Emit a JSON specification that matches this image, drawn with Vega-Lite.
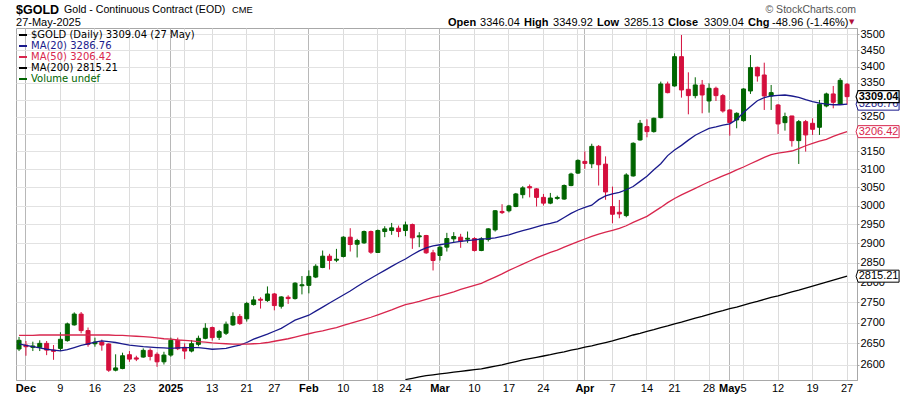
{
  "$schema": "https://vega.github.io/schema/vega-lite/v6.json",
  "autosize": {"type": "none"},
  "padding": {"left": 16, "top": 28, "right": 43, "bottom": 16},
  "width": 841,
  "height": 352,
  "background": "white",
  "config": {
    "font": "Liberation Sans",
    "view": {"stroke": "#a8a8a8", "strokeWidth": 1}
  },
  "data": {"name": "candles", "values": [
    {"date":"2024-11-29","open":2636.5,"high":2665.3,"low":2631.7,"close":2657.3,"ma20":2649,"ma50":2669,"ma200":null},
    {"date":"2024-12-02","open":2646,"high":2655.6,"low":2620.6,"close":2642,"ma20":2645,"ma50":2669,"ma200":null},
    {"date":"2024-12-03","open":2640.5,"high":2654,"low":2631.7,"close":2643.7,"ma20":2642,"ma50":2669,"ma200":null},
    {"date":"2024-12-04","open":2640.5,"high":2657.3,"low":2631.7,"close":2650,"ma20":2639,"ma50":2670,"ma200":null},
    {"date":"2024-12-05","open":2650,"high":2655.6,"low":2622,"close":2634,"ma20":2636,"ma50":2670,"ma200":null},
    {"date":"2024-12-06","open":2634,"high":2646,"low":2611,"close":2631,"ma20":2634,"ma50":2670,"ma200":null},
    {"date":"2024-12-09","open":2638,"high":2676.6,"low":2631.7,"close":2659.7,"ma20":2632,"ma50":2670,"ma200":null},
    {"date":"2024-12-10","open":2656.5,"high":2700,"low":2654,"close":2696.8,"ma20":2635,"ma50":2670,"ma200":null},
    {"date":"2024-12-11","open":2694.4,"high":2725,"low":2692.7,"close":2720.8,"ma20":2640,"ma50":2670,"ma200":null},
    {"date":"2024-12-12","open":2720.8,"high":2725.8,"low":2674.2,"close":2680.6,"ma20":2645,"ma50":2670,"ma200":null},
    {"date":"2024-12-13","open":2680.6,"high":2688,"low":2642,"close":2647.6,"ma20":2649,"ma50":2670,"ma200":null},
    {"date":"2024-12-16","open":2649,"high":2663.7,"low":2642,"close":2653,"ma20":2653,"ma50":2670,"ma200":null},
    {"date":"2024-12-17","open":2653,"high":2659,"low":2632.5,"close":2646,"ma20":2656,"ma50":2670,"ma200":null},
    {"date":"2024-12-18","open":2648.4,"high":2650,"low":2582.8,"close":2586.7,"ma20":2654,"ma50":2670,"ma200":null},
    {"date":"2024-12-19","open":2586.7,"high":2624,"low":2584,"close":2592,"ma20":2652,"ma50":2669,"ma200":null},
    {"date":"2024-12-20","open":2590.6,"high":2627.8,"low":2589,"close":2620.6,"ma20":2649,"ma50":2669,"ma200":null},
    {"date":"2024-12-23","open":2623,"high":2631.7,"low":2606.3,"close":2612.7,"ma20":2646,"ma50":2668,"ma200":null},
    {"date":"2024-12-24","open":2615.5,"high":2620.6,"low":2608,"close":2612.7,"ma20":2644,"ma50":2667,"ma200":null},
    {"date":"2024-12-26","open":2617.5,"high":2638,"low":2616,"close":2633.3,"ma20":2642,"ma50":2666,"ma200":null},
    {"date":"2024-12-27","open":2633.3,"high":2638,"low":2609.5,"close":2619,"ma20":2641,"ma50":2665,"ma200":null},
    {"date":"2024-12-30","open":2624,"high":2628.6,"low":2594.5,"close":2606.3,"ma20":2640,"ma50":2663,"ma200":null},
    {"date":"2024-12-31","open":2606.3,"high":2630,"low":2600,"close":2622.2,"ma20":2639,"ma50":2661,"ma200":null},
    {"date":"2025-01-02","open":2622.2,"high":2663.7,"low":2618.3,"close":2657.3,"ma20":2638,"ma50":2660,"ma200":null},
    {"date":"2025-01-03","open":2657.3,"high":2663.7,"low":2634,"close":2637.3,"ma20":2639,"ma50":2658,"ma200":null},
    {"date":"2025-01-06","open":2640.5,"high":2650,"low":2612.7,"close":2631.7,"ma20":2640,"ma50":2657,"ma200":null},
    {"date":"2025-01-07","open":2631.7,"high":2658,"low":2628.6,"close":2649.2,"ma20":2640,"ma50":2656,"ma200":null},
    {"date":"2025-01-08","open":2647.6,"high":2668.5,"low":2642.9,"close":2662,"ma20":2640,"ma50":2654,"ma200":null},
    {"date":"2025-01-10","open":2662,"high":2698.4,"low":2659.7,"close":2686.3,"ma20":2638,"ma50":2653,"ma200":null},
    {"date":"2025-01-13","open":2688,"high":2690.3,"low":2656.5,"close":2663.7,"ma20":2636,"ma50":2651,"ma200":null},
    {"date":"2025-01-14","open":2664.5,"high":2682.3,"low":2658,"close":2678.2,"ma20":2637,"ma50":2650,"ma200":null},
    {"date":"2025-01-15","open":2674.2,"high":2702.5,"low":2670,"close":2696,"ma20":2638,"ma50":2649,"ma200":null},
    {"date":"2025-01-16","open":2694.4,"high":2725,"low":2692,"close":2715,"ma20":2642,"ma50":2648,"ma200":null},
    {"date":"2025-01-17","open":2715,"high":2720.8,"low":2694.4,"close":2697.6,"ma20":2646,"ma50":2648,"ma200":null},
    {"date":"2025-01-21","open":2709.2,"high":2750.8,"low":2702.5,"close":2746.7,"ma20":2652,"ma50":2648,"ma200":null},
    {"date":"2025-01-22","open":2744.2,"high":2764.8,"low":2741.7,"close":2755.7,"ma20":2660,"ma50":2649,"ma200":null},
    {"date":"2025-01-23","open":2757.4,"high":2762.3,"low":2734.2,"close":2754.9,"ma20":2666,"ma50":2650,"ma200":null},
    {"date":"2025-01-24","open":2754.1,"high":2789.3,"low":2750.8,"close":2770.5,"ma20":2672,"ma50":2652,"ma200":null},
    {"date":"2025-01-27","open":2770.5,"high":2773,"low":2730,"close":2741.7,"ma20":2679,"ma50":2655,"ma200":null},
    {"date":"2025-01-28","open":2740,"high":2764.8,"low":2734.2,"close":2763.1,"ma20":2686,"ma50":2658,"ma200":null},
    {"date":"2025-01-29","open":2762.3,"high":2767.2,"low":2745.8,"close":2759,"ma20":2696,"ma50":2661,"ma200":null},
    {"date":"2025-01-30","open":2759,"high":2800,"low":2756.6,"close":2797.5,"ma20":2706,"ma50":2665,"ma200":null},
    {"date":"2025-01-31","open":2791,"high":2815.5,"low":2769.4,"close":2793.5,"ma20":2712,"ma50":2669,"ma200":null},
    {"date":"2025-02-03","open":2792,"high":2830,"low":2772,"close":2814.7,"ma20":2718,"ma50":2673,"ma200":null},
    {"date":"2025-02-04","open":2813,"high":2845.7,"low":2810.3,"close":2840.5,"ma20":2728,"ma50":2677,"ma200":null},
    {"date":"2025-02-05","open":2837.3,"high":2881,"low":2835.6,"close":2866.4,"ma20":2738,"ma50":2680,"ma200":null},
    {"date":"2025-02-06","open":2866.4,"high":2872.4,"low":2832.2,"close":2855.2,"ma20":2748,"ma50":2684,"ma200":null},
    {"date":"2025-02-07","open":2856,"high":2885.3,"low":2851,"close":2858.6,"ma20":2758,"ma50":2688,"ma200":null},
    {"date":"2025-02-10","open":2865.5,"high":2918.4,"low":2863,"close":2915.8,"ma20":2768,"ma50":2693,"ma200":null},
    {"date":"2025-02-11","open":2915.8,"high":2939.5,"low":2878.4,"close":2896.6,"ma20":2778,"ma50":2698,"ma200":null},
    {"date":"2025-02-12","open":2897.4,"high":2911.4,"low":2863,"close":2907,"ma20":2789,"ma50":2703,"ma200":null},
    {"date":"2025-02-13","open":2900.9,"high":2933.3,"low":2898.3,"close":2930.7,"ma20":2800,"ma50":2708,"ma200":null},
    {"date":"2025-02-14","open":2930.7,"high":2933.3,"low":2872.4,"close":2876.7,"ma20":2810,"ma50":2713,"ma200":null},
    {"date":"2025-02-18","open":2875.9,"high":2936,"low":2875,"close":2933.3,"ma20":2820,"ma50":2719,"ma200":null},
    {"date":"2025-02-19","open":2930.7,"high":2944.7,"low":2915.8,"close":2937.7,"ma20":2830,"ma50":2725,"ma200":null},
    {"date":"2025-02-20","open":2933.3,"high":2953.5,"low":2921.9,"close":2940.4,"ma20":2840,"ma50":2731,"ma200":null},
    {"date":"2025-02-21","open":2939.5,"high":2946.5,"low":2915.8,"close":2930.7,"ma20":2850,"ma50":2738,"ma200":null},
    {"date":"2025-02-24","open":2933.3,"high":2957,"low":2918.4,"close":2948.2,"ma20":2859,"ma50":2744,"ma200":2565},
    {"date":"2025-02-25","open":2949.1,"high":2951.8,"low":2885.3,"close":2914,"ma20":2870,"ma50":2748,"ma200":2568},
    {"date":"2025-02-26","open":2916.7,"high":2929,"low":2889.7,"close":2919.3,"ma20":2880,"ma50":2752,"ma200":2571},
    {"date":"2025-02-27","open":2920.2,"high":2921.9,"low":2872.4,"close":2875,"ma20":2888,"ma50":2757,"ma200":2574},
    {"date":"2025-02-28","open":2875,"high":2882.8,"low":2829.7,"close":2855.2,"ma20":2893,"ma50":2762,"ma200":2576},
    {"date":"2025-03-03","open":2868.1,"high":2894,"low":2855.2,"close":2889.7,"ma20":2896,"ma50":2766,"ma200":2578},
    {"date":"2025-03-04","open":2889.7,"high":2927.2,"low":2878.4,"close":2912.3,"ma20":2899,"ma50":2771,"ma200":2580},
    {"date":"2025-03-05","open":2911.4,"high":2929,"low":2902.6,"close":2917.5,"ma20":2902,"ma50":2776,"ma200":2582},
    {"date":"2025-03-06","open":2915.8,"high":2924.6,"low":2888,"close":2905.3,"ma20":2905,"ma50":2782,"ma200":2584},
    {"date":"2025-03-07","open":2910.5,"high":2930.7,"low":2900.9,"close":2913,"ma20":2907,"ma50":2787,"ma200":2586},
    {"date":"2025-03-10","open":2912.3,"high":2915.8,"low":2878.4,"close":2881,"ma20":2909,"ma50":2792,"ma200":2588},
    {"date":"2025-03-11","open":2881,"high":2915.8,"low":2879.3,"close":2911.4,"ma20":2911,"ma50":2797,"ma200":2590},
    {"date":"2025-03-12","open":2909.6,"high":2939.5,"low":2904.4,"close":2937.7,"ma20":2912,"ma50":2805,"ma200":2593},
    {"date":"2025-03-13","open":2935,"high":2987.7,"low":2930.7,"close":2986,"ma20":2914,"ma50":2813,"ma200":2596},
    {"date":"2025-03-14","open":2984.2,"high":3003.7,"low":2977.2,"close":2981,"ma20":2918,"ma50":2821,"ma200":2599},
    {"date":"2025-03-17","open":2986,"high":3001.9,"low":2981.6,"close":2999,"ma20":2922,"ma50":2830,"ma200":2603},
    {"date":"2025-03-18","open":2997.4,"high":3034.3,"low":2995.6,"close":3031.5,"ma20":2928,"ma50":2838,"ma200":2607},
    {"date":"2025-03-19","open":3029.6,"high":3052.8,"low":3019.4,"close":3048.1,"ma20":2933,"ma50":2846,"ma200":2611},
    {"date":"2025-03-20","open":3051.5,"high":3057.5,"low":3022.2,"close":3048.1,"ma20":2938,"ma50":2854,"ma200":2614},
    {"date":"2025-03-21","open":3045.4,"high":3047.2,"low":2997.4,"close":3022.2,"ma20":2943,"ma50":2862,"ma200":2617},
    {"date":"2025-03-24","open":3022.2,"high":3031.5,"low":3000,"close":3006.5,"ma20":2948,"ma50":2869,"ma200":2620},
    {"date":"2025-03-25","open":3006.5,"high":3034.3,"low":3003.7,"close":3020.4,"ma20":2952,"ma50":2876,"ma200":2623},
    {"date":"2025-03-26","open":3019.4,"high":3026.9,"low":3015.7,"close":3022,"ma20":2957,"ma50":2882,"ma200":2627},
    {"date":"2025-03-27","open":3017.6,"high":3057.5,"low":3015.7,"close":3054.7,"ma20":2968,"ma50":2890,"ma200":2630},
    {"date":"2025-03-28","open":3054.5,"high":3090,"low":3052.7,"close":3086.4,"ma20":2979,"ma50":2897,"ma200":2634},
    {"date":"2025-03-31","open":3089,"high":3127.4,"low":3086.4,"close":3124.5,"ma20":2988,"ma50":2904,"ma200":2637},
    {"date":"2025-04-01","open":3121.7,"high":3150,"low":3101,"close":3116,"ma20":2995,"ma50":2911,"ma200":2641},
    {"date":"2025-04-02","open":3115,"high":3171.7,"low":3102.8,"close":3164.2,"ma20":3001,"ma50":2918,"ma200":2644},
    {"date":"2025-04-03","open":3164.2,"high":3168,"low":3054.5,"close":3112.3,"ma20":3016,"ma50":2924,"ma200":2648},
    {"date":"2025-04-04","open":3114,"high":3135.8,"low":3015.7,"close":3037,"ma20":3026,"ma50":2929,"ma200":2652},
    {"date":"2025-04-07","open":2997.2,"high":3051.6,"low":2952.6,"close":2976.6,"ma20":3032,"ma50":2934,"ma200":2656},
    {"date":"2025-04-08","open":2982,"high":3015.2,"low":2965.9,"close":2977.5,"ma20":3036,"ma50":2939,"ma200":2661},
    {"date":"2025-04-09","open":2973,"high":3088.5,"low":2968.6,"close":3083.8,"ma20":3043,"ma50":2946,"ma200":2665},
    {"date":"2025-04-10","open":3081.1,"high":3175.9,"low":3079.2,"close":3173,"ma20":3052,"ma50":2955,"ma200":2670},
    {"date":"2025-04-11","open":3182.5,"high":3240.3,"low":3180.6,"close":3230.6,"ma20":3066,"ma50":2963,"ma200":2674},
    {"date":"2025-04-14","open":3220.9,"high":3242.3,"low":3190.2,"close":3206.5,"ma20":3080,"ma50":2971,"ma200":2679},
    {"date":"2025-04-15","open":3206.5,"high":3247.1,"low":3203.6,"close":3245.2,"ma20":3098,"ma50":2983,"ma200":2683},
    {"date":"2025-04-16","open":3247.1,"high":3354.1,"low":3245.2,"close":3347,"ma20":3115,"ma50":2995,"ma200":2688},
    {"date":"2025-04-17","open":3347,"high":3354.1,"low":3319,"close":3321,"ma20":3138,"ma50":3008,"ma200":2692},
    {"date":"2025-04-21","open":3341,"high":3440.6,"low":3339,"close":3430.3,"ma20":3154,"ma50":3019,"ma200":2697},
    {"date":"2025-04-22","open":3430.3,"high":3497.9,"low":3306.1,"close":3329,"ma20":3167,"ma50":3029,"ma200":2701},
    {"date":"2025-04-23","open":3331,"high":3382.3,"low":3256.8,"close":3312.1,"ma20":3182,"ma50":3038,"ma200":2706},
    {"date":"2025-04-24","open":3312.1,"high":3367.2,"low":3304.1,"close":3344,"ma20":3196,"ma50":3047,"ma200":2711},
    {"date":"2025-04-25","open":3344,"high":3359.1,"low":3259.8,"close":3314,"ma20":3206,"ma50":3056,"ma200":2715},
    {"date":"2025-04-28","open":3296.2,"high":3349,"low":3261.7,"close":3334,"ma20":3216,"ma50":3065,"ma200":2720},
    {"date":"2025-04-29","open":3334,"high":3339,"low":3296.2,"close":3312.1,"ma20":3220,"ma50":3073,"ma200":2725},
    {"date":"2025-04-30","open":3312.1,"high":3317.1,"low":3261.7,"close":3266.6,"ma20":3225,"ma50":3081,"ma200":2729},
    {"date":"2025-05-01","open":3269.6,"high":3271.6,"low":3195,"close":3232.5,"ma20":3229,"ma50":3089,"ma200":2734},
    {"date":"2025-05-02","open":3240.3,"high":3262.7,"low":3216.1,"close":3259.8,"ma20":3242,"ma50":3098,"ma200":2738},
    {"date":"2025-05-05","open":3238.4,"high":3334,"low":3235.4,"close":3332,"ma20":3262,"ma50":3106,"ma200":2743},
    {"date":"2025-05-06","open":3326,"high":3435.3,"low":3317.1,"close":3396.6,"ma20":3280,"ma50":3115,"ma200":2748},
    {"date":"2025-05-07","open":3397.6,"high":3399.6,"low":3354.1,"close":3371.2,"ma20":3297,"ma50":3124,"ma200":2752},
    {"date":"2025-05-08","open":3374.2,"high":3411.8,"low":3269.6,"close":3311.1,"ma20":3306,"ma50":3133,"ma200":2757},
    {"date":"2025-05-09","open":3311.1,"high":3344,"low":3269.6,"close":3321,"ma20":3311,"ma50":3141,"ma200":2762},
    {"date":"2025-05-12","open":3284.3,"high":3287.3,"low":3199.8,"close":3228.7,"ma20":3313,"ma50":3145,"ma200":2766},
    {"date":"2025-05-13","open":3232.5,"high":3261.7,"low":3209.4,"close":3250,"ma20":3314,"ma50":3148,"ma200":2771},
    {"date":"2025-05-14","open":3252,"high":3252,"low":3163.5,"close":3180.6,"ma20":3311,"ma50":3151,"ma200":2776},
    {"date":"2025-05-15","open":3180.6,"high":3240.3,"low":3114.5,"close":3235.4,"ma20":3307,"ma50":3158,"ma200":2780},
    {"date":"2025-05-16","open":3235.4,"high":3240.3,"low":3149.3,"close":3196.9,"ma20":3300,"ma50":3166,"ma200":2785},
    {"date":"2025-05-19","open":3230.6,"high":3245.2,"low":3196.9,"close":3213.2,"ma20":3294,"ma50":3173,"ma200":2790},
    {"date":"2025-05-20","open":3219,"high":3299.2,"low":3196.9,"close":3286.3,"ma20":3290,"ma50":3179,"ma200":2795},
    {"date":"2025-05-21","open":3281.3,"high":3321,"low":3277.4,"close":3317.1,"ma20":3287,"ma50":3184,"ma200":2800},
    {"date":"2025-05-22","open":3317.1,"high":3341,"low":3274.5,"close":3292.2,"ma20":3285,"ma50":3193,"ma200":2805},
    {"date":"2025-05-23","open":3286.3,"high":3365,"low":3284.3,"close":3358,"ma20":3285,"ma50":3200,"ma200":2810},
    {"date":"2025-05-27","open":3346.04,"high":3349.92,"low":3285.13,"close":3309.04,"ma20":3286.76,"ma50":3206.42,"ma200":2815.21}
  ]},
  "encoding": {
    "x": {
      "field": "date",
      "type": "ordinal",
      "scale": {
        "type": "band",
        "paddingInner": 0.42,
        "paddingOuter": 0.15,
        "domain": ["2024-11-29","2024-12-02","2024-12-03","2024-12-04","2024-12-05","2024-12-06","2024-12-09","2024-12-10","2024-12-11","2024-12-12","2024-12-13","2024-12-16","2024-12-17","2024-12-18","2024-12-19","2024-12-20","2024-12-23","2024-12-24","2024-12-26","2024-12-27","2024-12-30","2024-12-31","2025-01-02","2025-01-03","2025-01-06","2025-01-07","2025-01-08","2025-01-10","2025-01-13","2025-01-14","2025-01-15","2025-01-16","2025-01-17","2025-01-21","2025-01-22","2025-01-23","2025-01-24","2025-01-27","2025-01-28","2025-01-29","2025-01-30","2025-01-31","2025-02-03","2025-02-04","2025-02-05","2025-02-06","2025-02-07","2025-02-10","2025-02-11","2025-02-12","2025-02-13","2025-02-14","2025-02-18","2025-02-19","2025-02-20","2025-02-21","2025-02-24","2025-02-25","2025-02-26","2025-02-27","2025-02-28","2025-03-03","2025-03-04","2025-03-05","2025-03-06","2025-03-07","2025-03-10","2025-03-11","2025-03-12","2025-03-13","2025-03-14","2025-03-17","2025-03-18","2025-03-19","2025-03-20","2025-03-21","2025-03-24","2025-03-25","2025-03-26","2025-03-27","2025-03-28","2025-03-31","2025-04-01","2025-04-02","2025-04-03","2025-04-04","2025-04-07","2025-04-08","2025-04-09","2025-04-10","2025-04-11","2025-04-14","2025-04-15","2025-04-16","2025-04-17","2025-04-21","2025-04-22","2025-04-23","2025-04-24","2025-04-25","2025-04-28","2025-04-29","2025-04-30","2025-05-01","2025-05-02","2025-05-05","2025-05-06","2025-05-07","2025-05-08","2025-05-09","2025-05-12","2025-05-13","2025-05-14","2025-05-15","2025-05-16","2025-05-19","2025-05-20","2025-05-21","2025-05-22","2025-05-23","2025-05-27","2025-05-28"]
      },
      "axis": {
        "title": null,
        "orient": "bottom",
        "bandPosition": 0.5,
        "values": ["2024-12-02","2024-12-09","2024-12-16","2024-12-23","2024-12-30","2025-01-02","2025-01-06","2025-01-13","2025-01-21","2025-01-27","2025-02-03","2025-02-10","2025-02-18","2025-02-24","2025-03-03","2025-03-10","2025-03-17","2025-03-24","2025-03-31","2025-04-01","2025-04-07","2025-04-14","2025-04-21","2025-04-28","2025-05-01","2025-05-05","2025-05-12","2025-05-19","2025-05-27"],
        "labelExpr": "datum.value == '2024-12-02' ? 'Dec' : datum.value == '2025-01-02' ? '2025' : datum.value == '2025-02-03' ? 'Feb' : datum.value == '2025-03-03' ? 'Mar' : datum.value == '2025-04-01' ? 'Apr' : datum.value == '2025-05-01' ? 'May' : (datum.value == '2024-12-30' || datum.value == '2025-01-06' || datum.value == '2025-03-31') ? '' : '' + toNumber(substring(datum.value, 8, 10))",
        "labelFontWeight": {"condition": {"test": "indexof(['2024-12-02','2025-01-02','2025-02-03','2025-03-03','2025-04-01','2025-05-01'], datum.value) >= 0", "value": "bold"}, "value": "normal"},
        "gridColor": {"condition": {"test": "indexof(['2024-12-02','2025-01-02','2025-02-03','2025-03-03','2025-04-01','2025-05-01'], datum.value) >= 0", "value": "#b8b8b8"}, "value": "#dcdcdc"},
        "grid": true,
        "gridWidth": 1,
        "ticks": false,
        "labelPadding": 2,
        "labelAngle": 0,
        "labelOverlap": false,
        "labelFont": "Liberation Sans",
        "labelFontSize": 11,
        "labelColor": "#000000",
        "domainColor": "#a8a8a8"
      }
    }
  },
  "layer": [
    {
      "mark": {"type": "rule", "strokeWidth": 1},
      "encoding": {
        "y": {
          "field": "low",
          "type": "quantitative",
          "scale": {"type": "log", "domain": [2564, 3520], "nice": false, "zero": false},
          "axis": {
            "title": null,
            "orient": "right",
            "values": [2600,2650,2700,2750,2800,2850,2900,2950,3000,3050,3100,3150,3200,3250,3300,3350,3400,3450,3500],
            "format": "d",
            "labelExpr": "datum.value == 3200 || datum.value == 3300 ? '' : datum.label",
            "grid": true,
            "gridColor": "#e2e2e2",
            "domainColor": "#a8a8a8",
            "tickColor": "#a8a8a8",
            "tickSize": 2,
            "labelPadding": 1,
            "labelFont": "Liberation Sans",
            "labelFontSize": 11,
            "labelColor": "#000000"
          }
        },
        "y2": {"field": "high"},
        "color": {"condition": {"test": "datum.close >= datum.open", "value": "#006400"}, "value": "#d40f3d"}
      }
    },
    {
      "mark": {"type": "bar", "strokeWidth": 1},
      "encoding": {
        "y": {"field": "open", "type": "quantitative"},
        "y2": {"field": "close"},
        "color": {"condition": {"test": "datum.close >= datum.open", "value": "#006400"}, "value": "#d40f3d"},
        "stroke": {"condition": {"test": "datum.close >= datum.open", "value": "#006400"}, "value": "#d40f3d"}
      }
    },
    {
      "transform": [{"fold": ["ma20", "ma50", "ma200"], "as": ["series", "ma"]}],
      "mark": {"type": "line", "strokeWidth": 1.3, "clip": true},
      "encoding": {
        "y": {"field": "ma", "type": "quantitative"},
        "color": {
          "field": "series",
          "type": "nominal",
          "scale": {"domain": ["gold", "ma20", "ma50", "ma200", "volume"], "range": ["#000000", "#1a1a8c", "#d8264d", "#000000", "#006400"]},
          "legend": {
            "title": null,
            "orient": "top-left",
            "offset": 2,
            "padding": 0,
            "rowPadding": 1,
            "symbolType": "stroke",
            "symbolSize": 64,
            "symbolStrokeWidth": 2,
            "labelOffset": 3,
            "labelFont": "DejaVu Sans",
            "labelFontSize": 10,
            "labelLimit": 400,
            "labelExpr": "datum.value == 'gold' ? '$GOLD (Daily) 3309.04 (27 May)' : datum.value == 'ma20' ? 'MA(20) 3286.76' : datum.value == 'ma50' ? 'MA(50) 3206.42' : datum.value == 'ma200' ? 'MA(200) 2815.21' : 'Volume undef'",
            "labelColor": {"expr": "datum.value == 'ma20' ? '#1a1a8c' : datum.value == 'ma50' ? '#d8264d' : datum.value == 'volume' ? '#006400' : '#000000'"}
          }
        },
        "detail": {"field": "series"}
      }
    },
    {
      "transform": [{"filter": "datum.date == '2025-05-27'"}, {"fold": ["ma200", "ma50", "ma20"], "as": ["series", "value"]}],
      "mark": {"type": "point", "shape": "M9,0L11,-6H52V6H11Z", "size": 4, "filled": true, "fill": "white", "strokeWidth": 1, "opacity": 1},
      "encoding": {
        "y": {"field": "value", "type": "quantitative"},
        "stroke": {"condition": [{"test": "datum.series == 'ma20'", "value": "#1a1a8c"}, {"test": "datum.series == 'ma50'", "value": "#d8264d"}], "value": "#000000"}
      }
    },
    {
      "transform": [{"filter": "datum.date == '2025-05-27'"}, {"fold": ["ma200", "ma50", "ma20"], "as": ["series", "value"]}],
      "mark": {"type": "text", "dx": 31.5, "align": "center", "baseline": "middle", "font": "Liberation Sans", "fontSize": 11},
      "encoding": {
        "y": {"field": "value", "type": "quantitative"},
        "text": {"field": "value", "type": "quantitative", "format": ".2f"},
        "color": {"condition": [{"test": "datum.series == 'ma20'", "value": "#1a1a8c"}, {"test": "datum.series == 'ma50'", "value": "#d8264d"}], "value": "#000000"}
      }
    },
    {
      "transform": [{"filter": "datum.date == '2025-05-27'"}],
      "mark": {"type": "point", "shape": "M9,0L11,-6H52V6H11Z", "size": 4, "filled": true, "fill": "white", "stroke": "#000000", "strokeWidth": 1.2, "opacity": 1},
      "encoding": {"y": {"field": "close", "type": "quantitative"}}
    },
    {
      "transform": [{"filter": "datum.date == '2025-05-27'"}],
      "mark": {"type": "text", "dx": 31.5, "align": "center", "baseline": "middle", "font": "Liberation Sans", "fontSize": 11, "fontWeight": "bold", "color": "#000000"},
      "encoding": {
        "y": {"field": "close", "type": "quantitative"},
        "text": {"field": "close", "type": "quantitative", "format": ".2f"}
      }
    },
    {
      "data": {"values": [{}]},
      "mark": {"type": "text", "text": "$GOLD", "align": "left", "baseline": "alphabetic", "dx": -3, "dy": -14, "font": "Liberation Sans", "fontSize": 12.5, "fontWeight": "bold", "color": "#000000"},
      "encoding": {"x": {"datum": "2024-11-29"}, "y": {"datum": 3520}}
    },
    {
      "data": {"values": [{}]},
      "mark": {"type": "text", "text": "Gold - Continuous Contract (EOD)", "align": "left", "baseline": "alphabetic", "dx": 45, "dy": -15, "font": "Liberation Sans", "fontSize": 10.6, "color": "#000000"},
      "encoding": {"x": {"datum": "2024-11-29"}, "y": {"datum": 3520}}
    },
    {
      "data": {"values": [{}]},
      "mark": {"type": "text", "text": "CME", "align": "left", "baseline": "alphabetic", "dx": 213, "dy": -15, "font": "Liberation Sans", "fontSize": 9.3, "color": "#000000"},
      "encoding": {"x": {"datum": "2024-11-29"}, "y": {"datum": 3520}}
    },
    {
      "data": {"values": [{}]},
      "mark": {"type": "text", "text": "27-May-2025", "align": "left", "baseline": "alphabetic", "dx": -3, "dy": -2, "font": "Liberation Sans", "fontSize": 11, "color": "#000000"},
      "encoding": {"x": {"datum": "2024-11-29"}, "y": {"datum": 3520}}
    },
    {
      "data": {"values": [{}]},
      "mark": {"type": "text", "text": "© StockCharts.com", "align": "right", "baseline": "alphabetic", "dx": 9, "dy": -15.5, "font": "Liberation Sans", "fontSize": 10.5, "color": "#555555"},
      "encoding": {"x": {"datum": "2025-05-27"}, "y": {"datum": 3520}}
    },
    {
      "data": {"values": [{}]},
      "mark": {"type": "text", "text": "Open", "align": "left", "baseline": "alphabetic", "dx": -399, "dy": -2.5, "font": "Liberation Sans", "fontSize": 11, "fontWeight": "bold", "color": "#000000"},
      "encoding": {"x": {"datum": "2025-05-27"}, "y": {"datum": 3520}}
    },
    {
      "data": {"values": [{}]},
      "mark": {"type": "text", "text": "3346.04", "align": "left", "baseline": "alphabetic", "dx": -367, "dy": -2.5, "font": "Liberation Sans", "fontSize": 11, "color": "#000000"},
      "encoding": {"x": {"datum": "2025-05-27"}, "y": {"datum": 3520}}
    },
    {
      "data": {"values": [{}]},
      "mark": {"type": "text", "text": "High", "align": "left", "baseline": "alphabetic", "dx": -323, "dy": -2.5, "font": "Liberation Sans", "fontSize": 11, "fontWeight": "bold", "color": "#000000"},
      "encoding": {"x": {"datum": "2025-05-27"}, "y": {"datum": 3520}}
    },
    {
      "data": {"values": [{}]},
      "mark": {"type": "text", "text": "3349.92", "align": "left", "baseline": "alphabetic", "dx": -294, "dy": -2.5, "font": "Liberation Sans", "fontSize": 11, "color": "#000000"},
      "encoding": {"x": {"datum": "2025-05-27"}, "y": {"datum": 3520}}
    },
    {
      "data": {"values": [{}]},
      "mark": {"type": "text", "text": "Low", "align": "left", "baseline": "alphabetic", "dx": -250, "dy": -2.5, "font": "Liberation Sans", "fontSize": 11, "fontWeight": "bold", "color": "#000000"},
      "encoding": {"x": {"datum": "2025-05-27"}, "y": {"datum": 3520}}
    },
    {
      "data": {"values": [{}]},
      "mark": {"type": "text", "text": "3285.13", "align": "left", "baseline": "alphabetic", "dx": -223, "dy": -2.5, "font": "Liberation Sans", "fontSize": 11, "color": "#000000"},
      "encoding": {"x": {"datum": "2025-05-27"}, "y": {"datum": 3520}}
    },
    {
      "data": {"values": [{}]},
      "mark": {"type": "text", "text": "Close", "align": "left", "baseline": "alphabetic", "dx": -179, "dy": -2.5, "font": "Liberation Sans", "fontSize": 11, "fontWeight": "bold", "color": "#000000"},
      "encoding": {"x": {"datum": "2025-05-27"}, "y": {"datum": 3520}}
    },
    {
      "data": {"values": [{}]},
      "mark": {"type": "text", "text": "3309.04", "align": "left", "baseline": "alphabetic", "dx": -143, "dy": -2.5, "font": "Liberation Sans", "fontSize": 11, "color": "#000000"},
      "encoding": {"x": {"datum": "2025-05-27"}, "y": {"datum": 3520}}
    },
    {
      "data": {"values": [{}]},
      "mark": {"type": "text", "text": "Chg", "align": "left", "baseline": "alphabetic", "dx": -99, "dy": -2.5, "font": "Liberation Sans", "fontSize": 11, "fontWeight": "bold", "color": "#000000"},
      "encoding": {"x": {"datum": "2025-05-27"}, "y": {"datum": 3520}}
    },
    {
      "data": {"values": [{}]},
      "mark": {"type": "text", "text": "-48.96 (-1.46%)", "align": "left", "baseline": "alphabetic", "dx": -75, "dy": -2.5, "font": "Liberation Sans", "fontSize": 11, "color": "#000000"},
      "encoding": {"x": {"datum": "2025-05-27"}, "y": {"datum": 3520}}
    },
    {
      "data": {"values": [{}]},
      "mark": {"type": "text", "text": "▼", "align": "left", "baseline": "alphabetic", "dx": 2, "dy": -4, "font": "DejaVu Sans", "fontSize": 7, "color": "#b0103a"},
      "encoding": {"x": {"datum": "2025-05-27"}, "y": {"datum": 3520}}
    }
  ]
}
